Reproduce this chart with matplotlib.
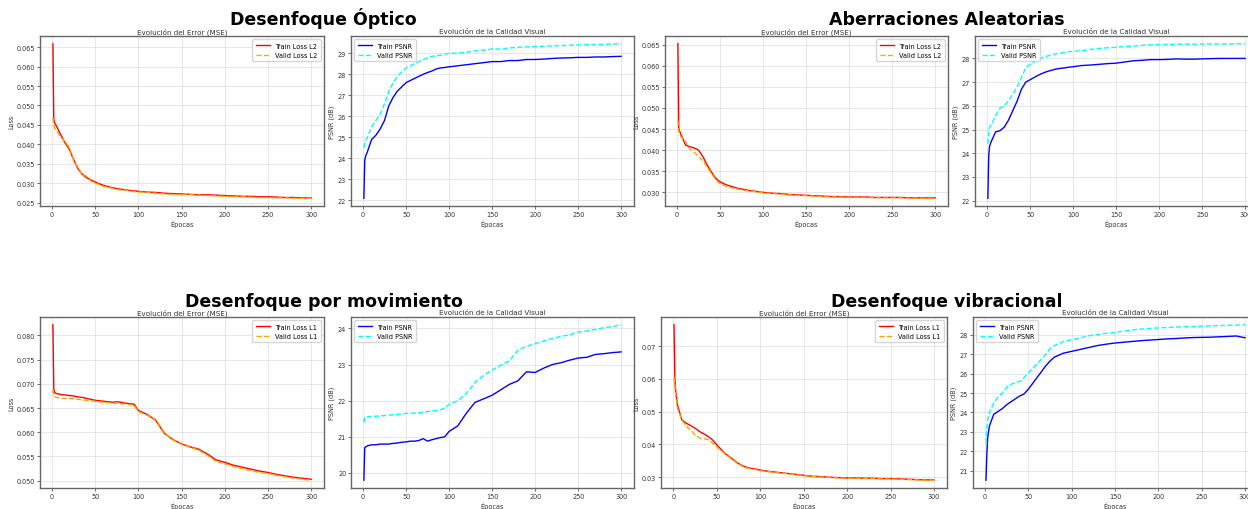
import matplotlib
matplotlib.use("Agg")
import matplotlib.pyplot as plt
from matplotlib.ticker import MultipleLocator

epochs = [1, 2, 3] + list(range(5, 101, 5)) + list(range(110, 301, 10))

# Desenfoque Óptico
opt_train_loss = [.0659, .0464, .0455,
                  .0447, .0425, .0404, .0387, .0361, .0337, .0323, .0314, .0308, .0303,
                  .0298, .0294, .0291, .0288, .0286, .0284, .0283, .0281, .0280, .0279,
                  .0277, .0276, .0274, .0273, .0272, .0271, .0270, .0270, .0269, .0268,
                  .0267, .0266, .0266, .0265, .0265, .0264, .0263, .0263, .0262, .0262]
opt_valid_loss = [.0468, .0452, .0440,
                  .0436, .0418, .0407, .0392, .0358, .0341, .0322, .0318, .0305, .0300,
                  .0296, .0291, .0290, .0286, .0284, .0282, .0282, .0280, .0278, .0277,
                  .0277, .0274, .0272, .0271, .0270, .0271, .0269, .0268, .0267, .0266,
                  .0265, .0265, .0264, .0263, .0263, .0262, .0262, .0261, .0261, .0261]
opt_train_psnr = [22.1, 23.9, 24.1,
                  24.3, 24.9, 25.1, 25.4, 25.8, 26.5, 26.9, 27.2, 27.4, 27.6,
                  27.7, 27.8, 27.9, 28.0, 28.08, 28.15, 28.25, 28.3, 28.32, 28.35,
                  28.4, 28.45, 28.5, 28.55, 28.6, 28.6, 28.65, 28.65, 28.7, 28.7,
                  28.72, 28.75, 28.77, 28.78, 28.8, 28.8, 28.82, 28.82, 28.84, 28.85]
opt_valid_psnr = [24.5, 24.7, 24.85,
                  25.0, 25.5, 25.8, 26.1, 26.6, 27.2, 27.6, 27.9, 28.1, 28.3,
                  28.4, 28.5, 28.6, 28.7, 28.78, 28.85, 28.88, 28.9, 28.95, 29.0,
                  29.0, 29.05, 29.1, 29.15, 29.2, 29.2, 29.25, 29.28, 29.3, 29.32,
                  29.33, 29.35, 29.36, 29.38, 29.39, 29.4, 29.41, 29.42, 29.44, 29.45]

# Aberraciones Aleatorias
ab_train_loss = [.0652, .0453, .0445,
                 .0435, .0412, .0408, .0405, .0400, .0385, .0365, .0348, .0333, .0325,
                 .0320, .0316, .0313, .0310, .0308, .0306, .0304, .0303, .0301, .0300,
                 .0298, .0297, .0295, .0294, .0293, .0292, .0291, .0290, .0290, .0289,
                 .0289, .0289, .0288, .0288, .0288, .0288, .0287, .0287, .0287, .0287]
ab_valid_loss = [.0470, .0445, .0438,
                 .0430, .0420, .0402, .0395, .0385, .0375, .0360, .0345, .0330, .0320,
                 .0316, .0313, .0310, .0308, .0306, .0304, .0303, .0302, .0300, .0299,
                 .0297, .0296, .0294, .0293, .0292, .0291, .0290, .0289, .0289, .0288,
                 .0288, .0288, .0287, .0287, .0287, .0287, .0286, .0286, .0286, .0286]
ab_train_psnr = [22.1, 23.9, 24.3,
                 24.5, 24.9, 24.95, 25.1, 25.4, 25.8, 26.2, 26.7, 27.0, 27.1,
                 27.2, 27.3, 27.38, 27.45, 27.5, 27.55, 27.58, 27.6, 27.63, 27.65,
                 27.7, 27.72, 27.75, 27.78, 27.8, 27.85, 27.9, 27.92, 27.95, 27.95,
                 27.96, 27.98, 27.97, 27.97, 27.98, 27.99, 28.0, 28.0, 28.0, 28.0]
ab_valid_psnr = [24.4, 25.0, 25.1,
                 25.2, 25.6, 25.9, 26.0, 26.2, 26.5, 26.8, 27.2, 27.6, 27.75,
                 27.85, 27.95, 28.05, 28.1, 28.15, 28.2, 28.22, 28.25, 28.28, 28.3,
                 28.33, 28.38, 28.42, 28.45, 28.47, 28.5, 28.52, 28.55, 28.57, 28.58,
                 28.59, 28.6, 28.6, 28.6, 28.61, 28.61, 28.61, 28.61, 28.62, 28.62]

# Desenfoque por movimiento
mov_train_loss = [.0822, .0690, .0682,
                  .0680, .0678, .0677, .0676, .0675, .0673, .0672, .0670, .0668, .0666,
                  .0665, .0664, .0663, .0662, .0663, .0662, .0660, .0659, .0658, .0645,
                  .0637, .0625, .0598, .0585, .0576, .0570, .0565, .0555, .0543, .0538,
                  .0532, .0528, .0524, .0520, .0517, .0513, .0510, .0507, .0505, .0503]
mov_valid_loss = [.0688, .0675, .0673,
                  .0672, .0670, .0670, .0670, .0669, .0668, .0667, .0666, .0665, .0664,
                  .0663, .0661, .0661, .0660, .0660, .0659, .0658, .0657, .0655, .0643,
                  .0635, .0627, .0600, .0584, .0575, .0569, .0563, .0552, .0540, .0535,
                  .0529, .0525, .0521, .0517, .0515, .0511, .0508, .0505, .0503, .0501]
mov_train_psnr = [19.8, 20.7, 20.72,
                  20.75, 20.78, 20.78, 20.8, 20.8, 20.8, 20.82, 20.83, 20.85, 20.86,
                  20.88, 20.88, 20.9, 20.95, 20.88, 20.92, 20.95, 20.98, 21.0, 21.15,
                  21.3, 21.65, 21.95, 22.05, 22.15, 22.3, 22.45, 22.55, 22.8, 22.78,
                  22.9, 23.0, 23.05, 23.12, 23.18, 23.2, 23.28, 23.3, 23.33, 23.35]
mov_valid_psnr = [21.4, 21.55, 21.55,
                  21.55, 21.57, 21.57, 21.58, 21.59, 21.6, 21.61, 21.62, 21.63, 21.65,
                  21.65, 21.66, 21.67, 21.68, 21.7, 21.72, 21.73, 21.75, 21.8, 21.9,
                  22.0, 22.2, 22.5, 22.7, 22.85, 22.98, 23.1, 23.4, 23.5, 23.58,
                  23.65, 23.72, 23.78, 23.82, 23.9, 23.93, 23.97, 24.02, 24.05, 24.1]

# Desenfoque vibracional
vib_train_loss = [.0765, .0600, .0560,
                  .0520, .0475, .0465, .0458, .0450, .0440, .0433, .0425, .0415, .0400,
                  .0385, .0372, .0362, .0352, .0342, .0335, .0330, .0327, .0325, .0322,
                  .0318, .0315, .0312, .0309, .0306, .0303, .0302, .0300, .0299, .0298,
                  .0298, .0297, .0297, .0296, .0296, .0295, .0294, .0293, .0292, .0292]
vib_valid_loss = [.0605, .0580, .0550,
                  .0510, .0475, .0455, .0445, .0430, .0420, .0418, .0415, .0405, .0393,
                  .0382, .0370, .0360, .0350, .0340, .0333, .0328, .0326, .0323, .0320,
                  .0317, .0314, .0311, .0308, .0305, .0302, .0301, .0299, .0298, .0297,
                  .0297, .0296, .0296, .0295, .0295, .0294, .0293, .0292, .0291, .0291]
vib_train_psnr = [20.5, 21.8, 22.7,
                  23.3, 23.9, 24.05, 24.2, 24.4, 24.55, 24.7, 24.85, 24.95, 25.2,
                  25.5, 25.8, 26.1, 26.4, 26.65, 26.85, 26.95, 27.05, 27.1, 27.15,
                  27.25, 27.35, 27.45, 27.52, 27.58, 27.62, 27.66, 27.7, 27.73, 27.76,
                  27.79, 27.81, 27.84, 27.86, 27.87, 27.88, 27.9, 27.92, 27.94, 27.85]
vib_valid_psnr = [22.4, 23.2, 23.6,
                  24.0, 24.5, 24.8, 25.0, 25.3, 25.45, 25.55, 25.6, 25.8, 26.05,
                  26.3, 26.5, 26.75, 27.0, 27.3, 27.45, 27.55, 27.65, 27.7, 27.75,
                  27.85, 27.95, 28.02, 28.08, 28.12, 28.2, 28.25, 28.3, 28.33, 28.36,
                  28.38, 28.4, 28.42, 28.43, 28.45, 28.46, 28.48, 28.49, 28.5, 28.52]

W, H = 1248, 510
fig = plt.figure(figsize=(W / 100, H / 100), dpi=100)


def px_axes(left, top, width, height):
    return fig.add_axes([left / W, 1 - (top + height) / H, width / W, height / H])


def style(ax, title, ylabel, step):
    ax.set_title(title, fontsize=5.1, pad=2, color='#333333')
    ax.set_xlabel('Épocas', fontsize=4.7, labelpad=2, color='#333333')
    ax.set_ylabel(ylabel, fontsize=4.7, labelpad=2, color='#333333')
    ax.tick_params(labelsize=4.7, length=2, width=0.5, pad=1.5, colors='#333333')
    ax.yaxis.set_major_locator(MultipleLocator(step))
    ax.grid(True, color='#d0d0d0', lw=0.6, alpha=0.6)
    for s in ax.spines.values():
        s.set_color('#666666')
        s.set_linewidth(1.0)


def loss_panel(ax, tr, va, tag, step):
    ax.plot(epochs, tr, color='red', lw=1.0, label='Train Loss ' + tag)
    ax.plot(epochs, va, color='orange', lw=1.0, ls='--', label='Valid Loss ' + tag)
    style(ax, 'Evolución del Error (MSE)', 'Loss', step)
    ax.legend(loc='upper right', fontsize=4.7, handlelength=2.2, borderpad=0.5, labelspacing=0.5)


def psnr_panel(ax, tr, va, step):
    ax.plot(epochs, tr, color='blue', lw=1.0, label='Train PSNR')
    ax.plot(epochs, va, color='cyan', lw=1.0, ls='--', label='Valid PSNR')
    style(ax, 'Evolución de la Calidad Visual', 'PSNR (dB)', step)
    ax.legend(loc='upper left', fontsize=4.7, handlelength=2.2, borderpad=0.5, labelspacing=0.5)


loss_panel(px_axes(40, 37, 284, 170), opt_train_loss, opt_valid_loss, 'L2', 0.005)
psnr_panel(px_axes(351, 37, 283, 170), opt_train_psnr, opt_valid_psnr, 1)
loss_panel(px_axes(665, 37, 283, 170), ab_train_loss, ab_valid_loss, 'L2', 0.005)
psnr_panel(px_axes(975, 37, 283, 170), ab_train_psnr, ab_valid_psnr, 1)

loss_panel(px_axes(40, 318, 284, 171), mov_train_loss, mov_valid_loss, 'L1', 0.005)
psnr_panel(px_axes(351, 318, 283, 171), mov_train_psnr, mov_valid_psnr, 1)
loss_panel(px_axes(661, 318, 286, 171), vib_train_loss, vib_valid_loss, 'L1', 0.01)
psnr_panel(px_axes(973, 318, 285, 171), vib_train_psnr, vib_valid_psnr, 1)

for x, y, t in [(323.5, 25, 'Desenfoque Óptico'), (947, 25, 'Aberraciones Aleatorias'),
                (323.5, 307.5, 'Desenfoque por movimiento'), (947, 307.5, 'Desenfoque vibracional')]:
    fig.text(x / W, 1 - y / H, t, ha='center', va='baseline', fontsize=12.5, fontweight='bold')

fig.savefig('out.png', dpi=100)
